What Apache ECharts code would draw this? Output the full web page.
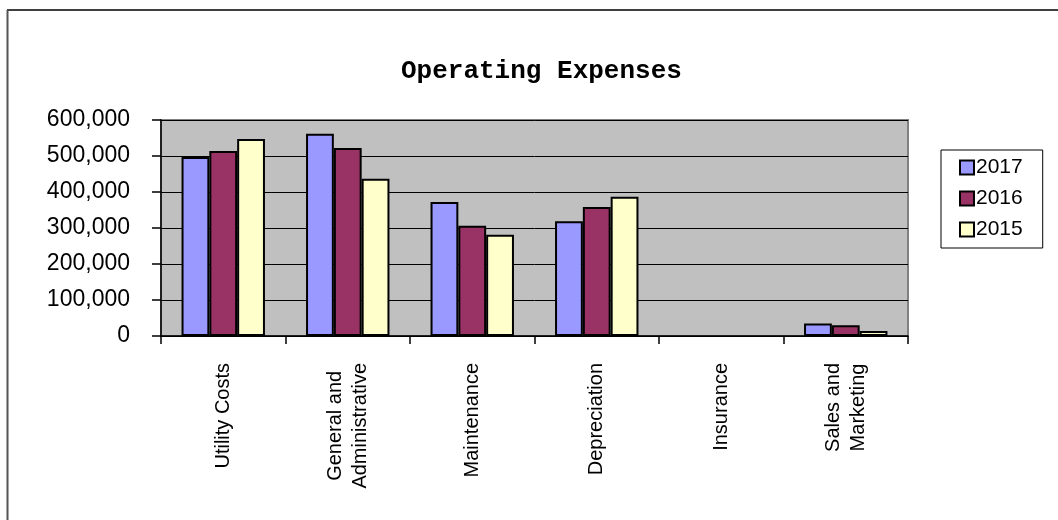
<!DOCTYPE html>
<html>
<head>
<meta charset="utf-8">
<title>Operating Expenses</title>
<script src="https://cdn.jsdelivr.net/npm/echarts@6/dist/echarts.min.js"></script>
<style>
  html, body { margin: 0; padding: 0; background: #fff; }
  #main { width: 1058px; height: 520px; }
</style>
</head>
<body>
<div id="main"></div>
<script>
// data
var categories = ['Utility Costs', 'General and\nAdministrative', 'Maintenance', 'Depreciation', 'Insurance', 'Sales and\nMarketing'];
var years = ['2017', '2016', '2015'];
var values2017 = [497000, 562000, 372000, 319000, 0, 35000];
var values2016 = [514000, 522000, 306000, 358000, 0, 30000];
var values2015 = [547000, 437000, 281000, 387000, 0, 14000];
var yTicks = [0, 100000, 200000, 300000, 400000, 500000, 600000];

var colors = ['#9999ff', '#993366', '#ffffcc'];
var font = 'Liberation Sans, Arial, sans-serif';

function fmt(v) {
  return String(v).replace(/\B(?=(\d{3})+(?!\d))/g, ',');
}

function makeSeries(name, data, color) {
  return {
    name: name,
    type: 'bar',
    // zero bars draw nothing in the original
    data: data.map(function (v) {
      return v === 0 ? { value: v, itemStyle: { borderWidth: 0 } } : v;
    }),
    barGap: '0%',
    barCategoryGap: '33%',
    itemStyle: { color: color, borderColor: '#000', borderWidth: 2 },
    emphasis: { disabled: true }
  };
}

var chart = echarts.init(document.getElementById('main'));
var option = {
  backgroundColor: '#fff',
  animation: false,
  title: {
    text: 'Operating Expenses',
    left: 401,
    top: 58,
    padding: 0,
    textStyle: { fontFamily: 'Liberation Mono, Courier New, monospace', fontWeight: 'bold', fontSize: 26, color: '#000' }
  },
  legend: {
    data: years,
    orient: 'vertical',
    left: 941,
    top: 150,
    width: 101,
    padding: [7, 20, 8, 18],
    itemGap: 10,
    itemWidth: 14,
    itemHeight: 14,
    icon: 'rect',
    borderColor: '#000',
    borderWidth: 1,
    itemStyle: { borderColor: '#000', borderWidth: 2 },
    textStyle: { fontFamily: font, fontSize: 21, color: '#000', padding: [0, 0, 0, -3] }
  },
  grid: {
    left: 161,
    right: 150,
    top: 120,
    bottom: 184,
    show: true,
    backgroundColor: '#c0c0c0',
    borderColor: '#808080',
    borderWidth: 2
  },
  xAxis: {
    type: 'category',
    data: categories,
    axisLine: { lineStyle: { color: '#000', width: 1.5 } },
    axisTick: { show: true, length: 8, lineStyle: { color: '#000', width: 1.5 } },
    axisLabel: {
      interval: 0,
      rotate: 90,
      margin: 27,
      color: '#000',
      fontFamily: font,
      fontSize: 20,
      lineHeight: 25,
      formatter: function (v) {
        return v.split('\n').map(function (s) { return '{c|' + s + '}'; }).join('\n');
      },
      rich: { c: { align: 'center', fontFamily: font, fontSize: 20, lineHeight: 25, color: '#000' } }
    },
    splitLine: { show: false }
  },
  yAxis: {
    type: 'value',
    min: yTicks[0],
    max: yTicks[yTicks.length - 1],
    interval: yTicks[1] - yTicks[0],
    axisLine: { show: true, lineStyle: { color: '#000', width: 1.5 } },
    axisTick: { show: true, length: 9, lineStyle: { color: '#000', width: 1.5 } },
    axisLabel: { margin: 31, color: '#000', fontFamily: font, fontSize: 23, formatter: fmt },
    splitLine: { show: true, lineStyle: { color: '#000', width: 1 } }
  },
  series: [
    makeSeries(years[0], values2017, colors[0]),
    makeSeries(years[1], values2016, colors[1]),
    makeSeries(years[2], values2015, colors[2])
  ],
  graphic: [
    { type: 'line', shape: { x1: 7, y1: 10, x2: 1058, y2: 10 }, style: { stroke: '#000', lineWidth: 1.5 } },
    { type: 'line', shape: { x1: 7.5, y1: 10, x2: 7.5, y2: 520 }, style: { stroke: '#555', lineWidth: 2 } }
  ]
};
chart.setOption(option);
</script>
</body>
</html>
